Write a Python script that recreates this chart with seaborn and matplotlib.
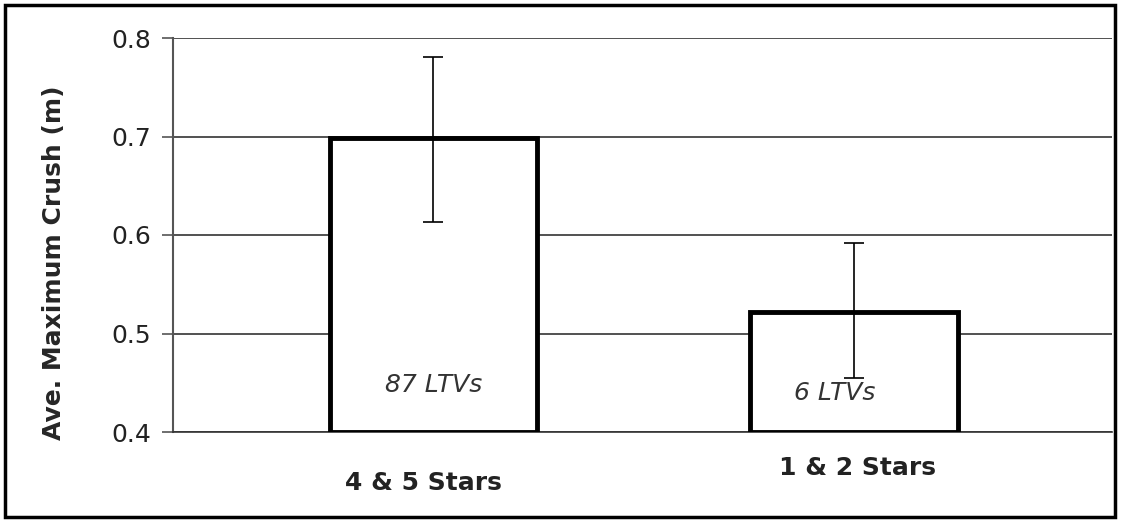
import matplotlib
matplotlib.use("Agg")
import matplotlib.pyplot as plt
import matplotlib.transforms as mtransforms
import seaborn as sns
import pandas as pd
import numpy as np

categories = ["4 & 5 Stars", "1 & 2 Stars"]
values = [0.698, 0.522]
err_low = [0.085, 0.067]
err_high = [0.083, 0.070]
counts = ["87 LTVs", "6 LTVs"]
yticks = [0.4, 0.5, 0.6, 0.7, 0.8]

sns.set_theme(style="white")
plt.rcParams['font.family'] = ['DejaVu Sans']

df = pd.DataFrame({"cat": categories, "val": values})

fig = plt.figure(figsize=(11.25, 5.22), dpi=100)
ax = fig.add_axes([173/1125, 1-432/522, (1112-173)/1125, (432-38)/522])

sns.barplot(data=df, x="cat", y="val", ax=ax, color="white", edgecolor="black",
            linewidth=3.5, width=0.495, errorbar=None, zorder=3)

ax.set_ylim(0.4, 0.8)
ax.set_xlim(-0.62, 1.615)
# bars start at the axis floor (0.4)
for p, v in zip(ax.patches, values):
    p.set_y(0.4)
    p.set_height(v - 0.4)

ax.errorbar(np.arange(len(values)), values, yerr=[err_low, err_high], fmt="none",
            ecolor="black", elinewidth=1.2, capsize=7.5, capthick=1.2, zorder=4)

ax.set_yticks(yticks)
ax.set_yticklabels([f"{t:.1f}" for t in yticks], fontsize=18, color="#222222")
ax.yaxis.grid(True, color="#333333", linewidth=1.2, zorder=0)
ax.set_axisbelow(True)
ax.tick_params(axis="y", direction="out", length=8, width=1.2, color="#555555", pad=8, left=True)
ax.set_xticks([])
ax.set_xlabel("")
ax.set_ylabel("Ave. Maximum Crush (m)", fontsize=18, fontweight="bold")
ax.yaxis.set_label_coords(-0.114, 0.43)

for s in ["top", "right"]:
    ax.spines[s].set_visible(False)
ax.spines["left"].set_color("#555555")
ax.spines["left"].set_linewidth(1.5)
ax.spines["bottom"].set_color("#333333")
ax.spines["bottom"].set_linewidth(1.2)

trans = mtransforms.blended_transform_factory(ax.transData, ax.transAxes)
label_y = [-0.13, -0.092]
label_x = [-0.024, 0.01]
for i, (c, ly, lx) in enumerate(zip(categories, label_y, label_x)):
    ax.text(i + lx, ly, c, transform=trans, ha="center", va="center",
            fontsize=18, fontweight="bold", color="#222222")

count_y = [0.448, 0.44]
count_x = [0.0, -0.045]
for i, (c, cy, cx) in enumerate(zip(counts, count_y, count_x)):
    ax.text(i + cx, cy, c, ha="center", va="center", fontsize=18,
            fontstyle="italic", color="#333333", zorder=5)

fig.patches.append(plt.Rectangle((5/1125, 5/522), 1115/1125 - 5/1125, 517/522 - 5/522,
                                 transform=fig.transFigure, fill=False,
                                 edgecolor="black", linewidth=2.5))

fig.savefig("out.png", dpi=100)
